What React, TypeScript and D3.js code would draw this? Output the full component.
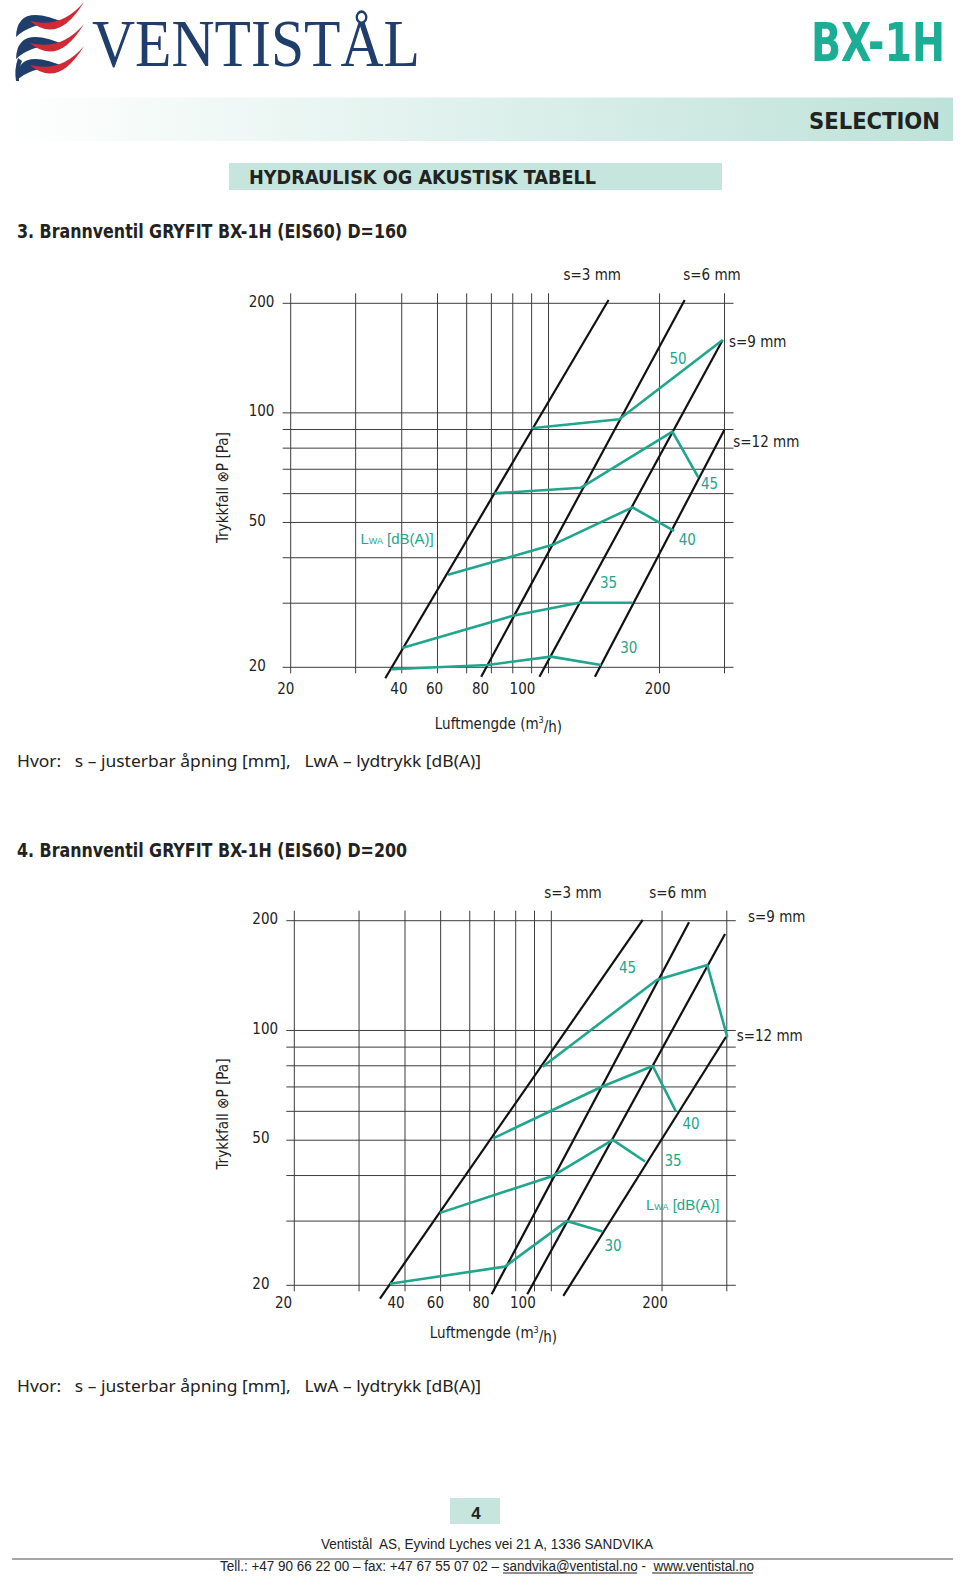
import { useEffect, useRef } from "react";
import * as d3 from "d3";

const TEAL = "#1fa68c";
const NAVY = "#1f3e6c";
const BAND = "#c6e6dd";
const GRID = "#3d3d3d";
const INK = "#222222";

const CHART_FONT = "'DejaVu Sans Condensed', 'DejaVu Sans', sans-serif";
const HEAD_FONT = "'DejaVu Sans Condensed', 'DejaVu Sans', sans-serif";
const FOOT_FONT = "'Liberation Sans Narrow', 'Liberation Sans', Arial, sans-serif";
const NOTE_FONT = "'Noto Sans', 'DejaVu Sans', sans-serif";

// shared axes (log-log)
const X_GRID = [20, 30, 40, 50, 60, 70, 80, 90, 100, 200, 300];
const Y_GRID = [20, 30, 40, 50, 60, 70, 80, 90, 100, 200];
const Y_TICKS = [200, 100, 50, 20];

// ---- 3. D=160 ----
// tick labels sit a bit off their grid lines in the original sheet
const D160_X_LABELS = [
  { text: "20", at: 19.4 },
  { text: "40", at: 39.3 },
  { text: "60", at: 49.1 },
  { text: "80", at: 65.4 },
  { text: "100", at: 85 },
  { text: "200", at: 197.6 },
];
const D160_S_LINES = [
  { s: "s=3 mm", from: [36.1, 18.66], to: [145.5, 204.2], tag: [131.4, 239.3] },
  { s: "s=6 mm", from: [65.7, 18.84], to: [234, 204.2], tag: [277.5, 239.3] },
  { s: "s=9 mm", from: [94.5, 18.84], to: [296.6, 158.6], tag: [308.4, 156.6] },
  { s: "s=12 mm", from: [133.6, 18.84], to: [299.6, 89.7], tag: [316.8, 83.3] },
];
const D160_LWA = [
  { db: "50", pts: [[89.9, 90.7], [155.5, 96.0], [296.6, 158.6]], tag: [224.6, 140.6] },
  { db: "45", pts: [[71.4, 60.1], [122.5, 62.3], [216.7, 88.8], [254.8, 66.5]], tag: [273.2, 63.8] },
  { db: "40", pts: [[53.4, 35.9], [102.6, 43.4], [168.9, 55.0], [219.0, 47.4]], tag: [237.9, 44.8] },
  { db: "35", pts: [[40.1, 22.6], [80, 27.7], [121.2, 30.1], [168.9, 30.1]], tag: [145.4, 34.2] },
  { db: "30", pts: [[37.5, 19.75], [68.5, 20.3], [101.6, 21.4], [138.7, 20.3]], tag: [165.0, 22.7] },
];
const D160_LWA_TAG = [30.9, 45.0];

// ---- 4. D=200 ----
const D200_X_LABELS = [
  { text: "20", at: 18.7 },
  { text: "40", at: 37.8 },
  { text: "60", at: 48.4 },
  { text: "80", at: 64.4 },
  { text: "100", at: 83.7 },
  { text: "200", at: 191.4 },
];
const D200_S_LINES = [
  { s: "s=3 mm", from: [34.2, 18.4], to: [177.2, 200.9], tag: [114.5, 238.2] },
  { s: "s=6 mm", from: [68.8, 18.9], to: [236.8, 198], tag: [221.0, 238.2] },
  { s: "s=9 mm", from: [86.0, 18.9], to: [296.7, 183.9], tag: [342.6, 204.7] },
  { s: "s=12 mm", from: [107.8, 18.7], to: [298.6, 96.1], tag: [319.1, 96.6] },
];
const D200_LWA = [
  { db: "45", pts: [[94.7, 79.5], [193.4, 137.5], [265.6, 151.1], [301, 95.8]], tag: [161.1, 148.7] },
  { db: "40", pts: [[69.5, 50.6], [137.1, 70.1], [188.7, 79.9], [218.3, 59.9]], tag: [239.8, 55.6] },
  { db: "35", pts: [[49.8, 31.6], [100.9, 39.9], [146.9, 50.1], [179.8, 43.7]], tag: [214.2, 43.9] },
  { db: "30", pts: [[36.4, 20.2], [74.8, 22.5], [110.1, 30.0], [137.6, 28.1]], tag: [147.1, 25.6] },
];
const D200_LWA_TAG = [180.9, 33.2];

const LAYOUT_D160 = {
  left: 290.7, right: 724.5, bottom: 667.3, top: 303.3,
  tickDy: 21, yTitleX: 223, yTitleY: 487.6, xTitleX: 498.5, xTitleY: 723.6,
};
const LAYOUT_D200 = {
  left: 294.3, right: 726.8, bottom: 1285.3, top: 920.7,
  tickDy: 17, yTitleX: 223, yTitleY: 1114, xTitleX: 493.5, xTitleY: 1333,
};

function Diagram({ layout, xLabels, sLines, lwa, lwaTag }: any) {
  const ref = useRef<SVGGElement>(null);

  useEffect(() => {
    if (!ref.current) return;
    const g = d3.select(ref.current);
    g.selectAll("*").remove();

    const x = d3.scaleLog().domain([20, 300]).range([layout.left, layout.right]);
    const y = d3.scaleLog().domain([20, 200]).range([layout.bottom, layout.top]);

    // grid
    g.append("g")
      .selectAll("line")
      .data(Y_GRID)
      .join("line")
      .attr("x1", x(20) - 8)
      .attr("x2", x(300) + 9)
      .attr("y1", (d) => y(d))
      .attr("y2", (d) => y(d))
      .attr("stroke", GRID)
      .attr("stroke-width", 1);
    g.append("g")
      .selectAll("line")
      .data(X_GRID)
      .join("line")
      .attr("x1", (d) => x(d))
      .attr("x2", (d) => x(d))
      .attr("y1", y(200) - 10)
      .attr("y2", y(20) + 6)
      .attr("stroke", GRID)
      .attr("stroke-width", 1);

    // tick labels
    g.append("g")
      .selectAll("text")
      .data(Y_TICKS)
      .join("text")
      .attr("x", x(20) - 42)
      .attr("y", (d) => y(d) - 2)
      .attr("dy", "0.35em")
      .attr("fill", INK)
      .attr("font-size", 15)
      .attr("font-family", CHART_FONT)
      .text((d) => d);
    g.append("g")
      .selectAll("text")
      .data(xLabels)
      .join("text")
      .attr("x", (d: any) => x(d.at))
      .attr("y", y(20) + layout.tickDy)
      .attr("dy", "0.35em")
      .attr("text-anchor", "middle")
      .attr("fill", INK)
      .attr("font-size", 15)
      .attr("font-family", CHART_FONT)
      .text((d: any) => d.text);

    // axis titles
    g.append("text")
      .attr("transform", `translate(${layout.yTitleX},${layout.yTitleY}) rotate(-90)`)
      .attr("dy", "0.35em")
      .attr("text-anchor", "middle")
      .attr("fill", INK)
      .attr("font-size", 15)
      .attr("font-family", CHART_FONT)
      .attr("textLength", 111)
      .attr("lengthAdjust", "spacingAndGlyphs")
      .text("Trykkfall  \u2297P [Pa]");

    const xt = g.append("text")
      .attr("x", layout.xTitleX)
      .attr("y", layout.xTitleY)
      .attr("dy", "0.35em")
      .attr("text-anchor", "middle")
      .attr("fill", INK)
      .attr("font-size", 15)
      .attr("font-family", CHART_FONT);
    xt.append("tspan").text("Luftmengde (m");
    xt.append("tspan").attr("font-size", 9).attr("dy", "-0.6em").text("3");
    xt.append("tspan").attr("dy", "0.6em").text("/h)");

    const line = d3.line<number[]>().x((d) => x(d[0])).y((d) => y(d[1]));

    // damper opening lines
    g.append("g")
      .selectAll("path")
      .data(sLines)
      .join("path")
      .attr("d", (d: any) => line([d.from, d.to]))
      .attr("fill", "none")
      .attr("stroke", "#111")
      .attr("stroke-width", 2.2);
    g.append("g")
      .selectAll("text")
      .data(sLines)
      .join("text")
      .attr("x", (d: any) => x(d.tag[0]))
      .attr("y", (d: any) => y(d.tag[1]))
      .attr("dy", "0.35em")
      .attr("text-anchor", (_d, i) => (i < 2 ? "middle" : "start"))
      .attr("fill", INK)
      .attr("font-size", 15)
      .attr("font-family", CHART_FONT)
      .text((d: any) => d.s);

    // sound level lines
    g.append("g")
      .selectAll("path")
      .data(lwa)
      .join("path")
      .attr("d", (d: any) => line(d.pts))
      .attr("fill", "none")
      .attr("stroke", TEAL)
      .attr("stroke-width", 2.6)
      .attr("stroke-linejoin", "round");
    g.append("g")
      .selectAll("text")
      .data(lwa)
      .join("text")
      .attr("x", (d: any) => x(d.tag[0]))
      .attr("y", (d: any) => y(d.tag[1]))
      .attr("dy", "0.35em")
      .attr("text-anchor", "middle")
      .attr("fill", TEAL)
      .attr("font-size", 15)
      .attr("font-family", CHART_FONT)
      .text((d: any) => d.db);

    const lt = g.append("text")
      .attr("x", x(lwaTag[0]))
      .attr("y", y(lwaTag[1]))
      .attr("dy", "0.35em")
      .attr("fill", TEAL)
      .attr("font-size", 15)
      .attr("font-family", "'Liberation Sans', Arial, sans-serif");
    lt.append("tspan").text("L");
    lt.append("tspan").attr("font-size", 9).text("WA");
    lt.append("tspan").text(" [dB(A)]");
  }, [layout, xLabels, sLines, lwa, lwaTag]);

  return <g ref={ref} />;
}

// red/blue ribbon mark
function Logo() {
  const rows = [0, 1, 2];
  return (
    <g>
      {rows.map((i) => {
        const dy = i * 22;
        return (
          <path
            key={"b" + i}
            d={`M16,${37 + dy} Q17,${1 + dy} 67,${24 + dy} Q34,${20 + dy} 16,${37 + dy} Z`}
            fill={NAVY}
          />
        );
      })}
      <path d="M16,81 Q14,70 18,58 L22,61 Q18,71 19,81 Z" fill={NAVY} />
      {rows.map((i) => {
        const dy = i * 22;
        return (
          <path
            key={"r" + i}
            d={`M30,${21 + dy} Q58,${45 + dy} 84,${2 + dy} Q61,${29 + dy} 30,${21 + dy} Z`}
            fill="#cf2a36"
          />
        );
      })}
    </g>
  );
}

export default function App() {
  return (
    <div>
      <svg
        width={960}
        height={1576}
        style={{ position: "absolute", left: 0, top: 0, background: "#fff" }}
      >
        <defs>
          <linearGradient id="band" x1="0" x2="1" y1="0" y2="0">
            <stop offset="0" stopColor="#ffffff" />
            <stop offset="1" stopColor="#bde2d8" />
          </linearGradient>
        </defs>
        <rect width={960} height={1576} fill="#fff" />

        {/* header */}
        <Logo />
        <text
          x={92}
          y={66}
          fill={NAVY}
          fontSize={68}
          fontFamily="'Liberation Serif', 'DejaVu Serif', serif"
          textLength={328}
          lengthAdjust="spacingAndGlyphs"
        >
          VENTISTÅL
        </text>
        <text
          transform="translate(811,61) scale(1,1.15)"
          fill="#1bae95"
          fontSize={46}
          fontWeight="bold"
          fontFamily={HEAD_FONT}
          textLength={134}
          lengthAdjust="spacingAndGlyphs"
        >
          BX-1H
        </text>
        <rect x={5} y={97.5} width={948} height={43.5} fill="url(#band)" />
        <text
          x={809}
          y={129}
          fill={INK}
          fontSize={23}
          fontWeight="bold"
          fontFamily={HEAD_FONT}
          textLength={131}
          lengthAdjust="spacingAndGlyphs"
        >
          SELECTION
        </text>
        <rect x={229} y={163} width={493} height={27} fill={BAND} />
        <text
          x={249}
          y={184}
          fill={INK}
          fontSize={19}
          fontWeight="bold"
          fontFamily={HEAD_FONT}
          textLength={347}
          lengthAdjust="spacingAndGlyphs"
        >
          HYDRAULISK OG AKUSTISK TABELL
        </text>

        {/* 3. D=160 */}
        <text
          x={17}
          y={238}
          fill={INK}
          fontSize={19}
          fontWeight="bold"
          fontFamily={HEAD_FONT}
          textLength={390}
          lengthAdjust="spacingAndGlyphs"
        >
          3. Brannventil GRYFIT BX-1H (EIS60) D=160
        </text>
        <Diagram
          layout={LAYOUT_D160}
          xLabels={D160_X_LABELS}
          sLines={D160_S_LINES}
          lwa={D160_LWA}
          lwaTag={D160_LWA_TAG}
        />
        <text
          x={17}
          y={767}
          fill={INK}
          fontSize={16}
          fontFamily={NOTE_FONT}
          textLength={464}
          lengthAdjust="spacingAndGlyphs"
          style={{ whiteSpace: "pre" }}
        >
          {"Hvor:   s – justerbar åpning [mm],   LwA – lydtrykk [dB(A)]"}
        </text>

        {/* 4. D=200 */}
        <text
          x={17}
          y={857}
          fill={INK}
          fontSize={19}
          fontWeight="bold"
          fontFamily={HEAD_FONT}
          textLength={390}
          lengthAdjust="spacingAndGlyphs"
        >
          4. Brannventil GRYFIT BX-1H (EIS60) D=200
        </text>
        <Diagram
          layout={LAYOUT_D200}
          xLabels={D200_X_LABELS}
          sLines={D200_S_LINES}
          lwa={D200_LWA}
          lwaTag={D200_LWA_TAG}
        />
        <text
          x={17}
          y={1392}
          fill={INK}
          fontSize={16}
          fontFamily={NOTE_FONT}
          textLength={464}
          lengthAdjust="spacingAndGlyphs"
          style={{ whiteSpace: "pre" }}
        >
          {"Hvor:   s – justerbar åpning [mm],   LwA – lydtrykk [dB(A)]"}
        </text>

        {/* footer */}
        <rect x={450} y={1498} width={50} height={26} fill={BAND} />
        <text
          x={476}
          y={1519}
          textAnchor="middle"
          fill={INK}
          fontSize={17}
          fontWeight="bold"
          fontFamily={FOOT_FONT}
        >
          4
        </text>
        <text
          x={321}
          y={1549}
          fill={INK}
          fontSize={14}
          fontFamily={FOOT_FONT}
          textLength={332}
          lengthAdjust="spacingAndGlyphs"
          style={{ whiteSpace: "pre" }}
        >
          {"Ventistål  AS, Eyvind Lyches vei 21 A, 1336 SANDVIKA"}
        </text>
        <line x1={12} x2={953} y1={1559} y2={1559} stroke="#8a8a8a" strokeWidth={1.5} />
        <text
          x={220}
          y={1571}
          fill={INK}
          fontSize={14}
          fontFamily={FOOT_FONT}
          textLength={534}
          lengthAdjust="spacingAndGlyphs"
          style={{ whiteSpace: "pre" }}
        >
          {"Tell.: +47 90 66 22 00 – fax: +47 67 55 07 02 – sandvika@ventistal.no -  www.ventistal.no"}
        </text>
        <line x1={503} x2={637} y1={1573} y2={1573} stroke={INK} strokeWidth={1} />
        <line x1={652} x2={753} y1={1573} y2={1573} stroke={INK} strokeWidth={1} />
      </svg>
    </div>
  );
}
